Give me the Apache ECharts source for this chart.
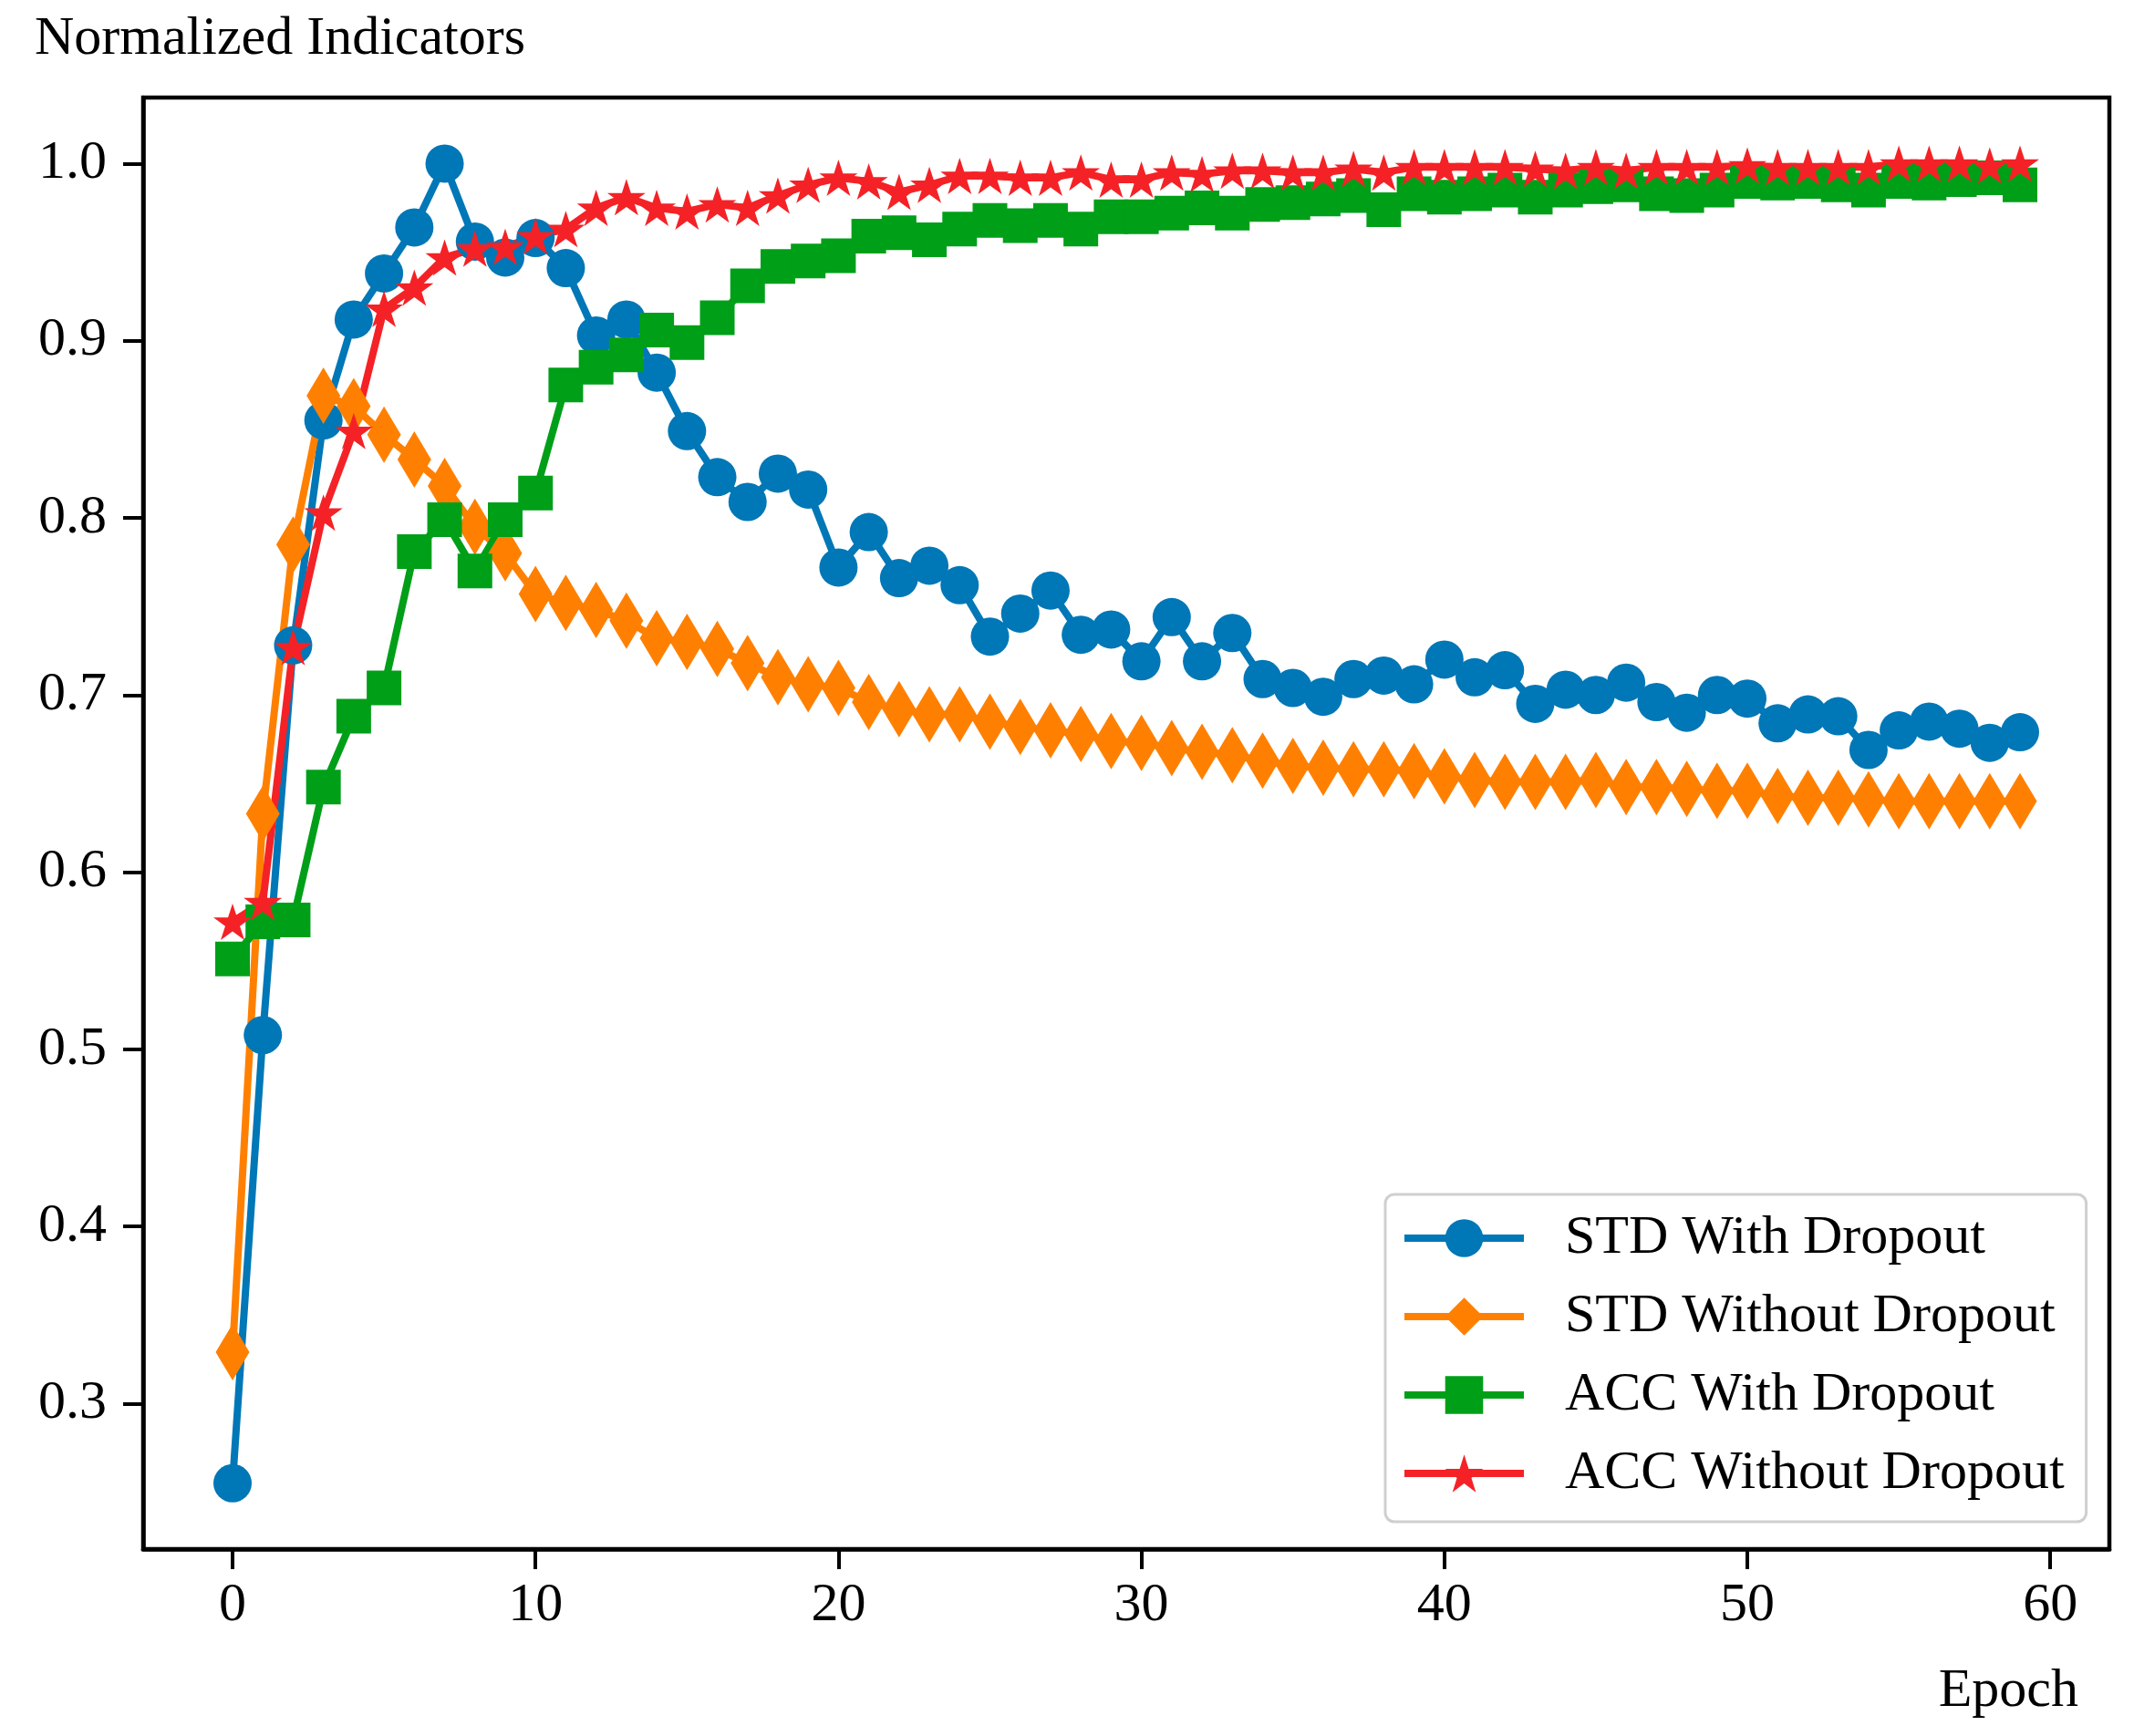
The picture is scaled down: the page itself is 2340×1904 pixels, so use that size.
<!DOCTYPE html>
<html><head><meta charset="utf-8">
<script src="https://cdn.jsdelivr.net/npm/echarts@6/dist/echarts.min.js"></script>
<style>html,body{margin:0;padding:0;background:#fff}#c{width:2340px;height:1904px}</style>
</head><body><div id="c"></div>
<script>
const epochs = [0,1,2,3,4,5,6,7,8,9,10,11,12,13,14,15,16,17,18,19,20,21,22,23,24,25,26,27,28,29,30,31,32,33,34,35,36,37,38,39,40,41,42,43,44,45,46,47,48,49,50,51,52,53,54,55,56,57,58,59];
const stdWithDropout = [0.255,0.508,0.728,0.855,0.912,0.938,0.964,1.0,0.956,0.947,0.958,0.941,0.903,0.912,0.882,0.849,0.823,0.809,0.825,0.816,0.772,0.792,0.766,0.773,0.762,0.733,0.746,0.759,0.734,0.737,0.719,0.744,0.719,0.735,0.709,0.704,0.699,0.709,0.711,0.706,0.720,0.710,0.714,0.695,0.703,0.700,0.707,0.696,0.690,0.700,0.698,0.684,0.689,0.688,0.669,0.680,0.685,0.681,0.673,0.679];
const stdWithoutDropout = [0.329,0.633,0.785,0.869,0.863,0.847,0.833,0.818,0.795,0.780,0.757,0.752,0.748,0.742,0.732,0.730,0.726,0.718,0.710,0.706,0.704,0.696,0.692,0.689,0.689,0.685,0.682,0.680,0.678,0.674,0.673,0.670,0.668,0.666,0.663,0.660,0.659,0.658,0.658,0.657,0.654,0.652,0.651,0.651,0.651,0.652,0.648,0.648,0.647,0.646,0.646,0.643,0.642,0.642,0.641,0.640,0.640,0.640,0.640,0.640];
const accWithDropout = [0.551,0.572,0.573,0.648,0.688,0.704,0.781,0.799,0.770,0.799,0.814,0.875,0.885,0.892,0.906,0.899,0.913,0.931,0.942,0.945,0.948,0.959,0.961,0.957,0.963,0.968,0.965,0.968,0.963,0.970,0.970,0.972,0.975,0.972,0.977,0.978,0.980,0.982,0.974,0.983,0.981,0.983,0.985,0.981,0.985,0.987,0.988,0.983,0.982,0.985,0.990,0.989,0.990,0.988,0.985,0.990,0.989,0.991,0.992,0.988];
const accWithoutDropout = [0.572,0.583,0.727,0.803,0.849,0.918,0.930,0.947,0.952,0.953,0.959,0.963,0.975,0.981,0.975,0.973,0.977,0.975,0.982,0.988,0.992,0.990,0.984,0.988,0.993,0.993,0.992,0.992,0.995,0.991,0.991,0.995,0.994,0.996,0.996,0.995,0.995,0.997,0.995,0.998,0.998,0.998,0.998,0.997,0.996,0.998,0.996,0.998,0.998,0.998,0.999,0.998,0.998,0.998,0.998,1.0,1.0,1.0,0.999,1.0];
const xTicks = [0,10,20,30,40,50,60];
const yTicks = [0.3,0.4,0.5,0.6,0.7,0.8,0.9,1.0];
const seriesNames = ['STD With Dropout','STD Without Dropout','ACC With Dropout','ACC Without Dropout'];

const FONT = '"Liberation Serif","DejaVu Serif",serif';
const FS = 60;
const STAR = 'path://M0,-100 L22.45,-30.9 L95.1,-30.9 L36.3,11.8 L58.8,80.9 L0,38.2 L-58.8,80.9 L-36.3,11.8 L-95.1,-30.9 L-22.45,-30.9 Z';
const pair = (ys) => ys.map((v, i) => [epochs[i], v]);

const chart = echarts.init(document.getElementById('c'), null, {renderer: 'canvas'});
const mk = (name, data, color, symbol, size) => ({
  name, type: 'line', data: pair(data), symbol, symbolSize: size,
  showAllSymbol: true, animation: false,
  lineStyle: {color, width: 8}, itemStyle: {color}
});
chart.setOption({
  backgroundColor: '#fff',
  animation: false,
  grid: {left: 157, right: 27, top: 107, bottom: 205, show: true, borderColor: '#000', borderWidth: 4.5, backgroundColor: 'transparent'},
  xAxis: {
    type: 'value', min: -2.95, max: 61.95,
    name: 'Epoch', nameLocation: 'end', nameGap: -34,
    nameTextStyle: {fontFamily: FONT, fontSize: FS, color: '#000', align: 'right', verticalAlign: 'top', padding: [126, 0, 0, 0]},
    axisLine: {show: true, onZero: false, lineStyle: {color: '#000', width: 4.5}},
    axisTick: {show: true, length: 22, lineStyle: {color: '#000', width: 4}, customValues: xTicks},
    axisLabel: {fontFamily: FONT, fontSize: FS, color: '#000', margin: 32, customValues: xTicks},
    splitLine: {show: false}
  },
  yAxis: {
    type: 'value', min: 0.2178, max: 1.0373,
    name: 'Normalized Indicators', nameLocation: 'end', nameGap: 34,
    nameTextStyle: {fontFamily: FONT, fontSize: FS, color: '#000', align: 'center', padding: [0, 0, 0, 300]},
    axisLine: {show: true, onZero: false, lineStyle: {color: '#000', width: 4.5}},
    axisTick: {show: true, length: 22, lineStyle: {color: '#000', width: 4}, customValues: yTicks},
    axisLabel: {fontFamily: FONT, fontSize: FS, color: '#000', margin: 40, customValues: yTicks, formatter: v => v.toFixed(1)},
    splitLine: {show: false}
  },
  legend: {
    orient: 'vertical', left: 1519, top: 1310,
    data: seriesNames,
    itemWidth: 131, itemHeight: 52, itemGap: 26,
    padding: [18, 24, 23, 17],
    borderColor: '#cfcfcf', borderWidth: 3, borderRadius: 10,
    backgroundColor: 'rgba(255,255,255,0.85)',
    lineStyle: {width: 8},
    textStyle: {fontFamily: FONT, fontSize: FS, color: '#000', padding: [0, 0, 0, 40]}
  },
  series: [
    mk(seriesNames[0], stdWithDropout, '#0077b6', 'circle', 42),
    mk(seriesNames[1], stdWithoutDropout, '#ff8000', 'diamond', [37, 62]),
    mk(seriesNames[2], accWithDropout, '#009f18', 'rect', 38),
    mk(seriesNames[3], accWithoutDropout, '#f42226', STAR, [42, 40])
  ]
});
</script></body></html>
